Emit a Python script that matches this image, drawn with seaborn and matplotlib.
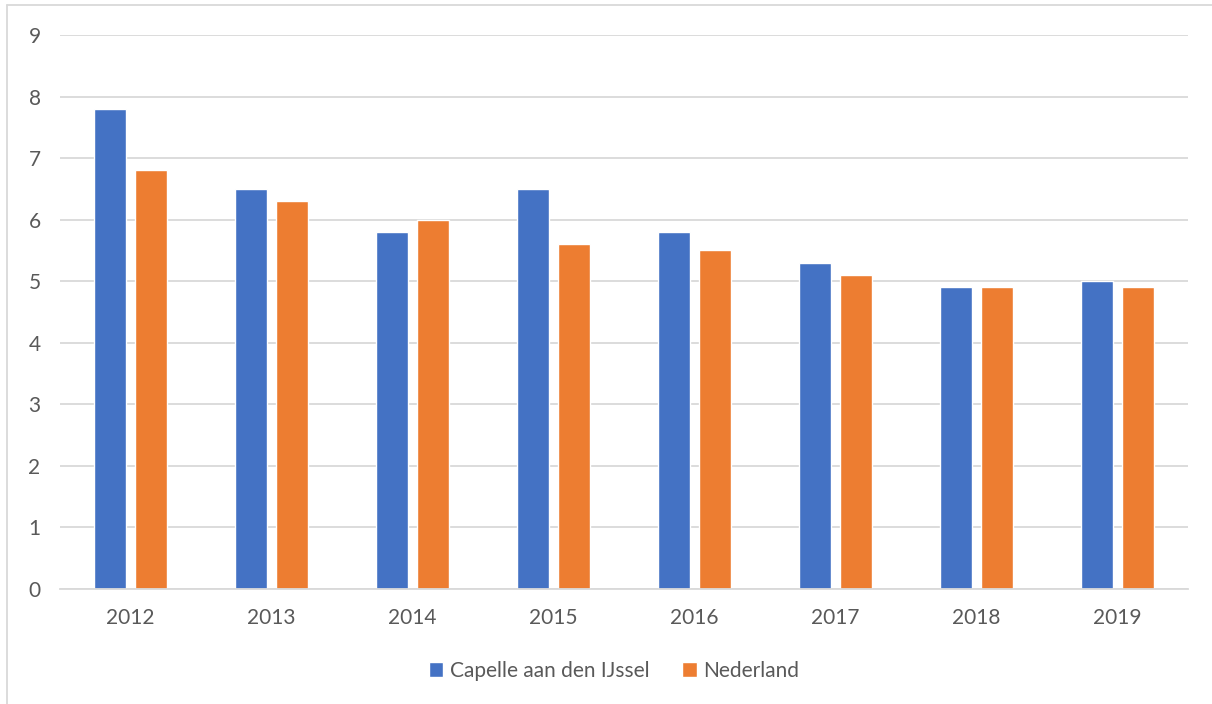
import matplotlib
matplotlib.use("Agg")
import matplotlib.pyplot as plt
from matplotlib.lines import Line2D
import seaborn as sns
import pandas as pd

years = ["2012", "2013", "2014", "2015", "2016", "2017", "2018", "2019"]
capelle = [7.8, 6.5, 5.8, 6.5, 5.8, 5.3, 4.9, 5.0]
nederland = [6.8, 6.3, 6.0, 5.6, 5.5, 5.1, 4.9, 4.9]
series_names = ["Capelle aan den IJssel", "Nederland"]
y_ticks = [0, 1, 2, 3, 4, 5, 6, 7, 8, 9]

df = pd.DataFrame({
    "jaar": years * 2,
    "waarde": capelle + nederland,
    "gebied": [series_names[0]] * len(years) + [series_names[1]] * len(years),
})

sns.set_style("white")
plt.rcParams["font.family"] = ["Lato", "DejaVu Sans"]

text_color = "#595959"
grid_color = "#D9D9D9"
palette = {series_names[0]: "#4472C4", series_names[1]: "#ED7D31"}

fig = plt.figure(figsize=(12.12, 7.04), dpi=100)
ax = fig.add_axes([60 / 1212, 1 - 589 / 704, 1128 / 1212, 554 / 704])

sns.barplot(data=df, x="jaar", y="waarde", hue="gebied", palette=palette,
            width=0.574, gap=0.21, ax=ax, legend=True, saturation=1)

ax.set_ylim(0, 9)
ax.set_xlim(-0.5, len(years) - 0.5)
ax.set_yticks(y_ticks)
ax.set_yticklabels([str(t) for t in y_ticks])
ax.set_xlabel("")
ax.set_ylabel("")
ax.yaxis.grid(True, color=grid_color, linewidth=1.3)
ax.set_axisbelow(True)
for side in ["top", "right", "left"]:
    ax.spines[side].set_visible(False)
ax.spines["bottom"].set_color(grid_color)
ax.spines["bottom"].set_linewidth(1.3)
ax.tick_params(axis="both", length=0, labelsize=15, colors=text_color)
ax.tick_params(axis="y", pad=14)
ax.tick_params(axis="x", pad=14)

handles, labels = ax.get_legend_handles_labels()
ax.legend(handles, labels, loc="center", bbox_to_anchor=(614 / 1212, 1 - 671 / 704),
          bbox_transform=fig.transFigure, ncol=2, frameon=False, fontsize=15,
          labelcolor=text_color, handlelength=0.7, handleheight=0.7,
          handletextpad=0.3, columnspacing=1.6)

# chart frame edges
fig.add_artist(Line2D([7 / 1212, 7 / 1212], [0, 1 - 5 / 704], color=grid_color,
                      linewidth=1.3, transform=fig.transFigure))
fig.add_artist(Line2D([7 / 1212, 1], [1 - 5 / 704, 1 - 5 / 704], color=grid_color,
                      linewidth=1.3, transform=fig.transFigure))

fig.savefig("out.png", dpi=100, facecolor="white")
